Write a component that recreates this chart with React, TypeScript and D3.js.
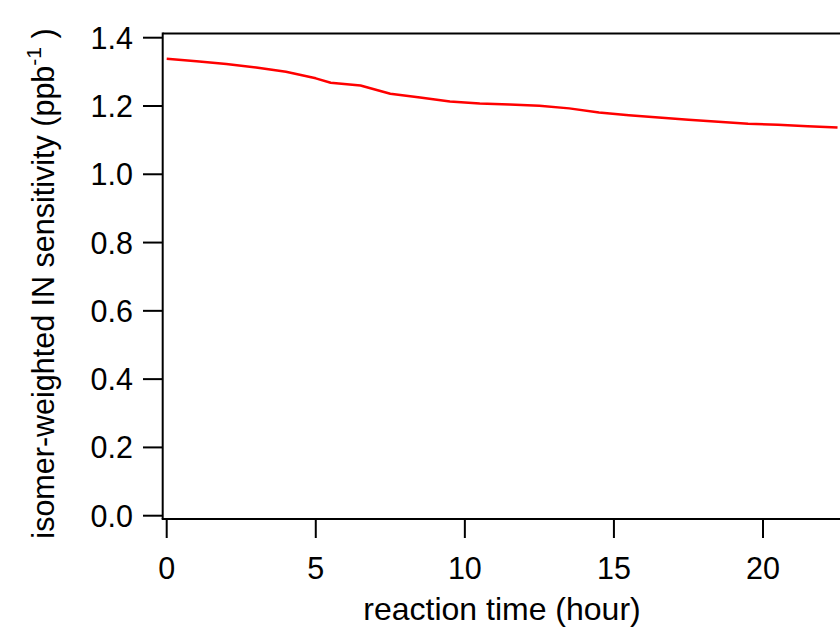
import React from "react";
import * as d3 from "d3";

const hours = [0, 1, 2, 3, 4, 4.5, 5, 5.5, 6.5, 7.5, 8.5, 9.5, 10.5, 11.5, 12.5, 13.5, 14.5, 15.5, 16.5, 17.5, 18.5, 19.5, 20.5, 21.5, 22.5];
const sensitivity = [1.338, 1.331, 1.323, 1.313, 1.300, 1.291, 1.281, 1.268, 1.260, 1.236, 1.225, 1.213, 1.207, 1.204, 1.201, 1.193, 1.181, 1.173, 1.166, 1.160, 1.154, 1.148, 1.145, 1.141, 1.137];
const xTicks = [0, 5, 10, 15, 20];
const yTicks = [0, 0.2, 0.4, 0.6, 0.8, 1.0, 1.2, 1.4];

export default function App() {
  const W = 840, H = 629;
  const x = d3.scaleLinear().domain([0, 20]).range([166.7, 763]);
  const y = d3.scaleLinear().domain([0, 1.4]).range([515.7, 37.7]);
  const axisX = 162.7;
  const axisY = 519;
  const topY = 33.5;
  const font = "'Liberation Sans', Arial, Helvetica, sans-serif";
  const line = d3.line<number>().x((_, i) => x(hours[i])).y((d) => y(d));
  return (
    <svg width={W} height={H} style={{ position: "absolute", left: 0, top: 0, background: "#fff" }} fontFamily={font}>
      <rect x={0} y={0} width={W} height={H} fill="#fff" />
      <path d={line(sensitivity) || ""} fill="none" stroke="#ff0000" strokeWidth={2.5} strokeLinejoin="round" />
      <line x1={axisX} x2={W} y1={topY} y2={topY} stroke="#000" strokeWidth={2} />
      <line x1={axisX} x2={axisX} y1={topY - 1} y2={axisY} stroke="#000" strokeWidth={2} />
      <line x1={axisX - 1} x2={W} y1={axisY} y2={axisY} stroke="#000" strokeWidth={2} />
      {yTicks.map((t) => (
        <g key={"y" + t}>
          <line x1={143} x2={axisX} y1={y(t)} y2={y(t)} stroke="#000" strokeWidth={2} />
          <text x={133} y={y(t)} dy="0.36em" textAnchor="end" fontSize={30.5} fill="#000">{t.toFixed(1)}</text>
        </g>
      ))}
      {xTicks.map((t) => (
        <g key={"x" + t}>
          <line x1={x(t)} x2={x(t)} y1={axisY} y2={538} stroke="#000" strokeWidth={2} />
          <text x={x(t)} y={579} textAnchor="middle" fontSize={30.5} fill="#000">{t}</text>
        </g>
      ))}
      <text x={502} y={620} textAnchor="middle" fontSize={32} fill="#000">reaction time (hour)</text>
      <text transform={`translate(54,${283.5}) rotate(-90)`} textAnchor="middle" fontSize={30.5} fill="#000">
        isomer-weighted IN sensitivity (ppb<tspan dy="-13" fontSize={21}>-1</tspan><tspan dy="13"> )</tspan>
      </text>
    </svg>
  );
}
